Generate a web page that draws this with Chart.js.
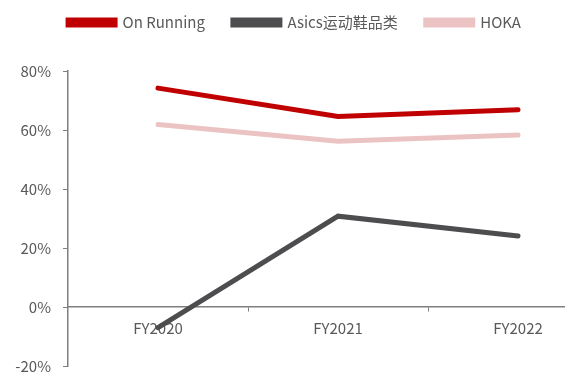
<!DOCTYPE html>
<html lang="zh">
<head>
<meta charset="UTF-8">
<title>毛利率对比</title>
<script src="https://cdn.jsdelivr.net/npm/chart.js"></script>
<style>
  body { margin: 0; background: #fff; }
  #wrap { width: 565px; height: 374px; }
</style>
</head>
<body>
<div id="wrap"><canvas id="chart" width="565" height="374"></canvas></div>
<script>
// values (%)
const years = ['FY2020', 'FY2021', 'FY2022'];
const onRunning = [74.2, 64.6, 66.9];
const asics = [-7.0, 30.8, 24.1];
const hoka = [61.9, 56.2, 58.3];

const axisColor = '#7f7f7f';
const textColor = '#595959';
const font = { family: "'Noto Sans CJK SC', 'Open Sans', sans-serif", size: 15, lineHeight: 1 };

function series(label, data, color) {
  return {
    label: label,
    data: data.map((v, i) => ({ x: i, y: v })),
    borderColor: color,
    backgroundColor: color,
    borderWidth: 5,
    borderCapStyle: 'round',
    pointRadius: 0,
    tension: 0
  };
}

// legend is higher and a bit right of where Chart.js puts it
const legendMove = {
  id: 'legendMove',
  beforeDraw(chart) {
    chart.legend.top = -13;
    chart.legend.left = 24;
  }
};

new Chart(document.getElementById('chart'), {
  type: 'line',
  data: {
    datasets: [
      series('On Running', onRunning, '#c00000'),
      series('Asics运动鞋品类', asics, '#4d4d4f'),
      series('HOKA', hoka, '#ecc3c3')
    ]
  },
  plugins: [legendMove],
  options: {
    responsive: false,
    animation: false,
    layout: { padding: { top: 18, right: 0, bottom: 8, left: 0 } },
    plugins: {
      tooltip: { enabled: false },
      legend: {
        position: 'top',
        labels: {
          boxWidth: 47,
          boxHeight: 5,
          color: textColor,
          font: font,
          padding: 28
        }
      }
    },
    scales: {
      x: {
        type: 'linear',
        position: { y: 0 },
        min: -0.5,
        max: 2.261,
        afterFit: s => { s.height = 0; },
        afterBuildTicks: s => { s.ticks = [0, 0.5, 1, 1.5, 2].map(v => ({ value: v })); },
        grid: {
          drawOnChartArea: false,
          tickLength: 4,
          color: c => Number.isInteger(c.tick.value) ? 'rgba(0,0,0,0)' : axisColor
        },
        border: { color: axisColor, width: 1.5 },
        ticks: {
          color: textColor,
          font: font,
          padding: 10,
          maxRotation: 0,
          autoSkip: false,
          callback: v => Number.isInteger(v) ? years[v] : ''
        }
      },
      y: {
        min: -20,
        max: 80,
        afterFit: s => { s.width = 68; s.paddingBottom = 0; },
        grid: { drawOnChartArea: false, tickLength: 5, color: axisColor },
        border: { color: axisColor, width: 1.5 },
        ticks: {
          stepSize: 20,
          color: textColor,
          font: font,
          padding: 12,
          callback: v => v + '%'
        }
      }
    }
  }
});
</script>
</body>
</html>
